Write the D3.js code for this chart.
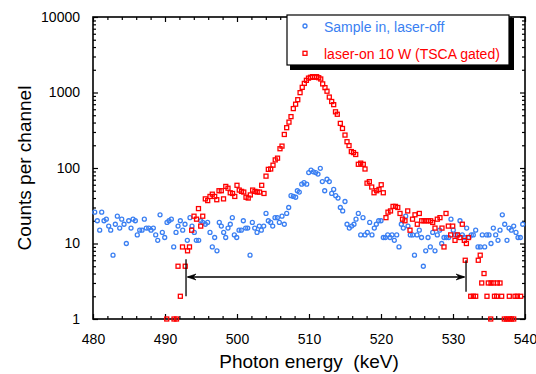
<!DOCTYPE html>
<meta charset="utf-8">
<title>Counts per channel</title>
<style>
body { margin: 0; background: #fff; }
svg { font-family: "Liberation Sans", Arial, sans-serif; }
</style>
<svg width="536" height="374"></svg>
<script src="https://d3js.org/d3.v7.min.js"></script>
<script>
var xTicks = [480, 490, 500, 510, 520, 530, 540];
var yTicks = [1, 10, 100, 1000, 10000];

var seriesNames = ["Sample in, laser-off", "laser-on 10 W (TSCA gated)"];

// [photon energy keV, counts per channel]
var laserOff = [
  [480.24,26],[480.60,20],[480.93,15],[481.21,26],[481.53,20],[481.85,21],[482.18,17],[482.46,15],[482.78,7],[483.10,18],
  [483.38,23],[483.71,16],[483.99,21],[484.31,18],[484.63,10],[484.96,20],[485.28,16],[485.56,21],[485.88,20],[486.15,13],
  [486.49,15],[486.81,15],[487.13,21],[487.40,16],[487.74,16],[488.06,15],[488.38,16],[488.71,13],[488.99,11],[489.31,24],
  [489.63,14],[489.96,12],[490.28,19],[490.56,20],[490.88,21],[491.21,9],[491.53,14],[491.81,17],[492.13,20],[492.46,15],
  [492.78,18],[493.10,11],[493.47,22],[493.75,17],[494.07,14],[494.35,11],[494.68,11],[494.96,20],[495.24,19],[495.60,18],
  [495.92,19],[496.25,14],[496.57,9],[496.90,12],[497.22,8],[497.54,19],[497.82,17],[498.15,14],[498.43,12],[498.75,16],
  [499.07,18],[499.35,22],[499.63,13],[499.96,12],[500.28,15],[500.60,15],[500.88,20],[501.21,16],[501.49,16],[501.81,7],
  [502.13,19],[502.46,16],[502.78,14],[503.10,17],[503.38,15],[503.71,17],[504.03,25],[504.35,20],[504.68,19],[504.96,17],
  [505.28,22],[505.60,22],[505.88,19],[506.25,23],[506.57,18],[506.90,25],[507.18,30],[507.50,43],[507.82,42],[508.15,41],
  [508.38,50],[508.65,48],[508.99,61],[509.31,64],[509.68,61],[509.96,87],[510.28,94],[510.60,89],[510.93,87],[511.25,83],
  [511.57,99],[511.85,66],[512.18,50],[512.50,71],[512.82,66],[513.15,46],[513.43,52],[513.71,43],[514.03,40],[514.35,30],
  [514.68,27],[515.00,36],[515.28,18],[515.60,16],[515.93,17],[516.25,18],[516.53,21],[516.85,25],[517.18,13],[517.50,22],
  [517.78,13],[518.10,14],[518.43,19],[518.75,13],[519.07,16],[519.35,18],[519.68,20],[520.00,20],[520.32,12],[520.60,12],
  [520.93,13],[521.25,12],[521.53,13],[521.85,11],[522.18,13],[522.50,9],[522.82,18],[523.10,16],[523.43,23],[523.75,17],
  [524.07,13],[524.40,13],[524.65,7],[525.00,13],[525.32,15],[525.63,12],[525.88,5],[526.21,8],[526.53,12],[526.85,9],
  [527.18,14],[527.50,8],[527.82,13],[528.15,15],[528.43,10],[528.75,12],[529.07,12],[529.40,12],[529.72,21],[530.04,15],
  [530.32,13],[530.65,13],[530.97,20],[531.29,13],[531.57,12],[531.90,16],[532.22,12],[532.54,13],[532.82,13],[533.15,15],
  [533.47,9],[533.79,9],[534.07,13],[534.40,9],[534.68,13],[535.00,13],[535.28,10],[535.60,16],[535.93,13],[536.25,11],
  [536.53,15],[536.85,24],[537.18,18],[537.50,11],[537.78,16],[538.10,15],[538.43,17],[538.75,14],[539.03,12],[539.35,12],
  [539.68,18]
];

var laserOn = [
  [490.24,1],[491.25,1],[491.60,1],[491.81,5],[492.13,2],[492.43,9],[492.81,5],[493.13,8],[493.40,9],[493.71,15],
  [494.03,23],[494.38,21],[494.65,29],[494.96,17],[495.24,23],[495.60,39],[495.93,37],[496.25,42],[496.57,45],[496.90,42],
  [497.19,38],[497.50,50],[497.82,50],[498.13,39],[498.44,57],[498.75,54],[499.06,47],[499.38,46],[499.69,42],[500.00,59],
  [500.31,51],[500.63,49],[500.94,48],[501.25,41],[501.56,40],[501.85,44],[502.17,51],[502.49,49],[502.81,48],[503.13,48],
  [503.43,59],[503.75,46],[504.03,78],[504.35,96],[504.68,97],[505.00,109],[505.31,128],[505.63,135],[505.97,180],[506.25,195],
  [506.57,278],[506.90,342],[507.22,405],[507.50,479],[507.82,612],[508.14,700],[508.44,803],[508.76,995],[509.06,1170],[509.35,1320],
  [509.64,1450],[509.93,1550],[510.21,1590],[510.49,1620],[510.78,1590],[511.06,1620],[511.35,1570],[511.63,1510],[511.90,1300],[512.22,1160],
  [512.50,1040],[512.82,870],[513.15,760],[513.43,690],[513.68,555],[513.93,515],[514.35,390],[514.65,334],[515.00,273],[515.28,223],
  [515.56,198],[515.88,165],[516.18,160],[516.49,151],[516.85,112],[517.18,116],[517.54,112],[517.78,97],[518.06,63],[518.38,66],
  [518.71,56],[519.03,47],[519.40,50],[519.72,52],[520.03,60],[520.32,47],[520.69,22],[520.97,26],[521.32,27],[521.67,31],
  [522.01,31],[522.33,30],[522.64,25],[522.99,21],[523.33,20],[523.71,27],[524.03,15],[524.38,21],[524.72,24],[525.04,18],
  [525.32,25],[525.65,20],[525.97,20],[526.28,20],[526.57,20],[526.90,20],[527.18,19],[527.50,16],[527.82,21],[528.19,22],
  [528.47,16],[528.75,9],[529.03,25],[529.35,17],[529.68,13],[529.96,17],[530.28,11],[530.60,13],[530.97,12],[531.29,18],
  [531.57,11],[531.70,6],[531.86,10],[532.15,12],[532.46,2],[532.82,2],[533.15,2],[533.51,6],[533.78,7],[533.99,3],
  [534.31,4],[534.72,2],[534.90,3],[535.24,1],[535.28,3],[535.63,3],[535.76,2],[536.07,2],[536.15,3],[536.53,3],
  [536.76,2],[537.13,1],[537.46,1],[537.78,1],[537.82,2],[538.10,1],[538.43,1],[538.61,2],[538.93,2],[539.40,2]
];

// TSCA gate: edges (keV), arrow level and bar extent (counts)
var gateEdges = [492.92, 531.81];
var gateArrow = 3.6;
var gateBarLeft = [2.0, 6.2];
var gateBarRight = [2.3, 6.0];

var blue = "#3a7ff2", red = "#ff0000";

var svg = d3.select("svg");

var x = d3.scaleLinear().domain([480, 540]).range([93, 525]);
var y = d3.scaleLog().domain([1, 10000]).range([319, 17]);

var xMinor = x.ticks(30).filter(function(d) { return xTicks.indexOf(d) < 0; });
var yMinor = y.ticks().filter(function(d) { return yTicks.indexOf(d) < 0; });

function clean(g) {
  g.select(".domain").remove();
  g.attr("font-family", null).attr("font-size", 14);
  g.selectAll(".tick line").attr("stroke", "#000").attr("stroke-width", 1.2);
  g.selectAll("text").attr("fill", "#000");
}

// bottom
svg.append("g").attr("transform", "translate(0,319)")
  .call(d3.axisBottom(x).tickValues(xTicks).tickSize(-5).tickPadding(15).tickFormat(d3.format("d"))).call(clean);
svg.append("g").attr("transform", "translate(0,319)")
  .call(d3.axisBottom(x).tickValues(xMinor).tickSize(-3).tickFormat("")).call(clean);
// top
svg.append("g").attr("transform", "translate(0,17)")
  .call(d3.axisTop(x).tickValues(xTicks).tickSize(-5).tickFormat("")).call(clean);
svg.append("g").attr("transform", "translate(0,17)")
  .call(d3.axisTop(x).tickValues(xMinor).tickSize(-3).tickFormat("")).call(clean);
// left
svg.append("g").attr("transform", "translate(93,0)")
  .call(d3.axisLeft(y).tickValues(yTicks).tickSize(-5).tickPadding(13).tickFormat(d3.format("d"))).call(clean);
svg.append("g").attr("transform", "translate(93,0)")
  .call(d3.axisLeft(y).tickValues(yMinor).tickSize(-3).tickFormat("")).call(clean);
// right
svg.append("g").attr("transform", "translate(525,0)")
  .call(d3.axisRight(y).tickValues(yTicks).tickSize(-5).tickFormat("")).call(clean);
svg.append("g").attr("transform", "translate(525,0)")
  .call(d3.axisRight(y).tickValues(yMinor).tickSize(-3).tickFormat("")).call(clean);

svg.append("rect")
  .attr("x", 93).attr("y", 17)
  .attr("width", 525 - 93).attr("height", 319 - 17)
  .attr("fill", "none").attr("stroke", "#000").attr("stroke-width", 1.6);

// axis titles
svg.append("text")
  .attr("x", 309).attr("y", 368)
  .attr("text-anchor", "middle").attr("font-size", 19)
  .text("Photon energy  (keV)").style("white-space", "pre");

svg.append("text")
  .attr("transform", "translate(31,168) rotate(-90)")
  .attr("text-anchor", "middle").attr("font-size", 19)
  .text("Counts per channel");

// points
svg.append("g").selectAll("circle")
  .data(laserOff)
  .enter().append("circle")
    .attr("cx", function(d) { return x(d[0]); })
    .attr("cy", function(d) { return y(d[1]); })
    .attr("r", 2)
    .attr("fill", "none").attr("stroke", blue).attr("stroke-width", 1.3);

svg.append("g").selectAll("rect")
  .data(laserOn)
  .enter().append("rect")
    .attr("x", function(d) { return x(d[0]) - 2; })
    .attr("y", function(d) { return y(d[1]) - 2; })
    .attr("width", 4).attr("height", 4)
    .attr("fill", "none").attr("stroke", red).attr("stroke-width", 1.3);

// gate annotation
var ann = svg.append("g").attr("stroke", "#000").attr("stroke-width", 1.3);
ann.append("line")
  .attr("x1", x(gateEdges[0])).attr("x2", x(gateEdges[0]))
  .attr("y1", y(gateBarLeft[0])).attr("y2", y(gateBarLeft[1]));
ann.append("line")
  .attr("x1", x(gateEdges[1])).attr("x2", x(gateEdges[1]))
  .attr("y1", y(gateBarRight[0])).attr("y2", y(gateBarRight[1]));
ann.append("line")
  .attr("x1", x(gateEdges[0]) + 2).attr("x2", x(gateEdges[1]) - 2)
  .attr("y1", y(gateArrow)).attr("y2", y(gateArrow));

var ay = y(gateArrow);
function head(tip, dir) {
  return "M" + tip + "," + ay +
    "L" + (tip + dir * 9) + "," + (ay - 3) +
    "L" + (tip + dir * 6) + "," + ay +
    "L" + (tip + dir * 9) + "," + (ay + 3) + "Z";
}
ann.append("path").attr("d", head(x(gateEdges[0]) + 1, 1)).attr("fill", "#000").attr("stroke-width", 0.6);
ann.append("path").attr("d", head(x(gateEdges[1]) - 1, -1)).attr("fill", "#000").attr("stroke-width", 0.6);

// legend
var lg = svg.append("g").attr("transform", "translate(287,15)");
lg.append("rect").attr("x", 3).attr("y", 3).attr("width", 224).attr("height", 52).attr("fill", "#000");
lg.append("rect").attr("x", 0).attr("y", 0).attr("width", 222).attr("height", 50)
  .attr("fill", "#fff").attr("stroke", "#000").attr("stroke-width", 1.2);

lg.append("circle").attr("cx", 18).attr("cy", 11).attr("r", 2)
  .attr("fill", "none").attr("stroke", blue).attr("stroke-width", 1.3);
lg.append("text").attr("x", 37).attr("y", 16.5).attr("font-size", 14).attr("fill", blue)
  .text(seriesNames[0]);

lg.append("rect").attr("x", 16).attr("y", 36.3).attr("width", 4).attr("height", 4)
  .attr("fill", "none").attr("stroke", red).attr("stroke-width", 1.3);
lg.append("text").attr("x", 37).attr("y", 44).attr("font-size", 14).attr("fill", red)
  .text(seriesNames[1]);
</script>
